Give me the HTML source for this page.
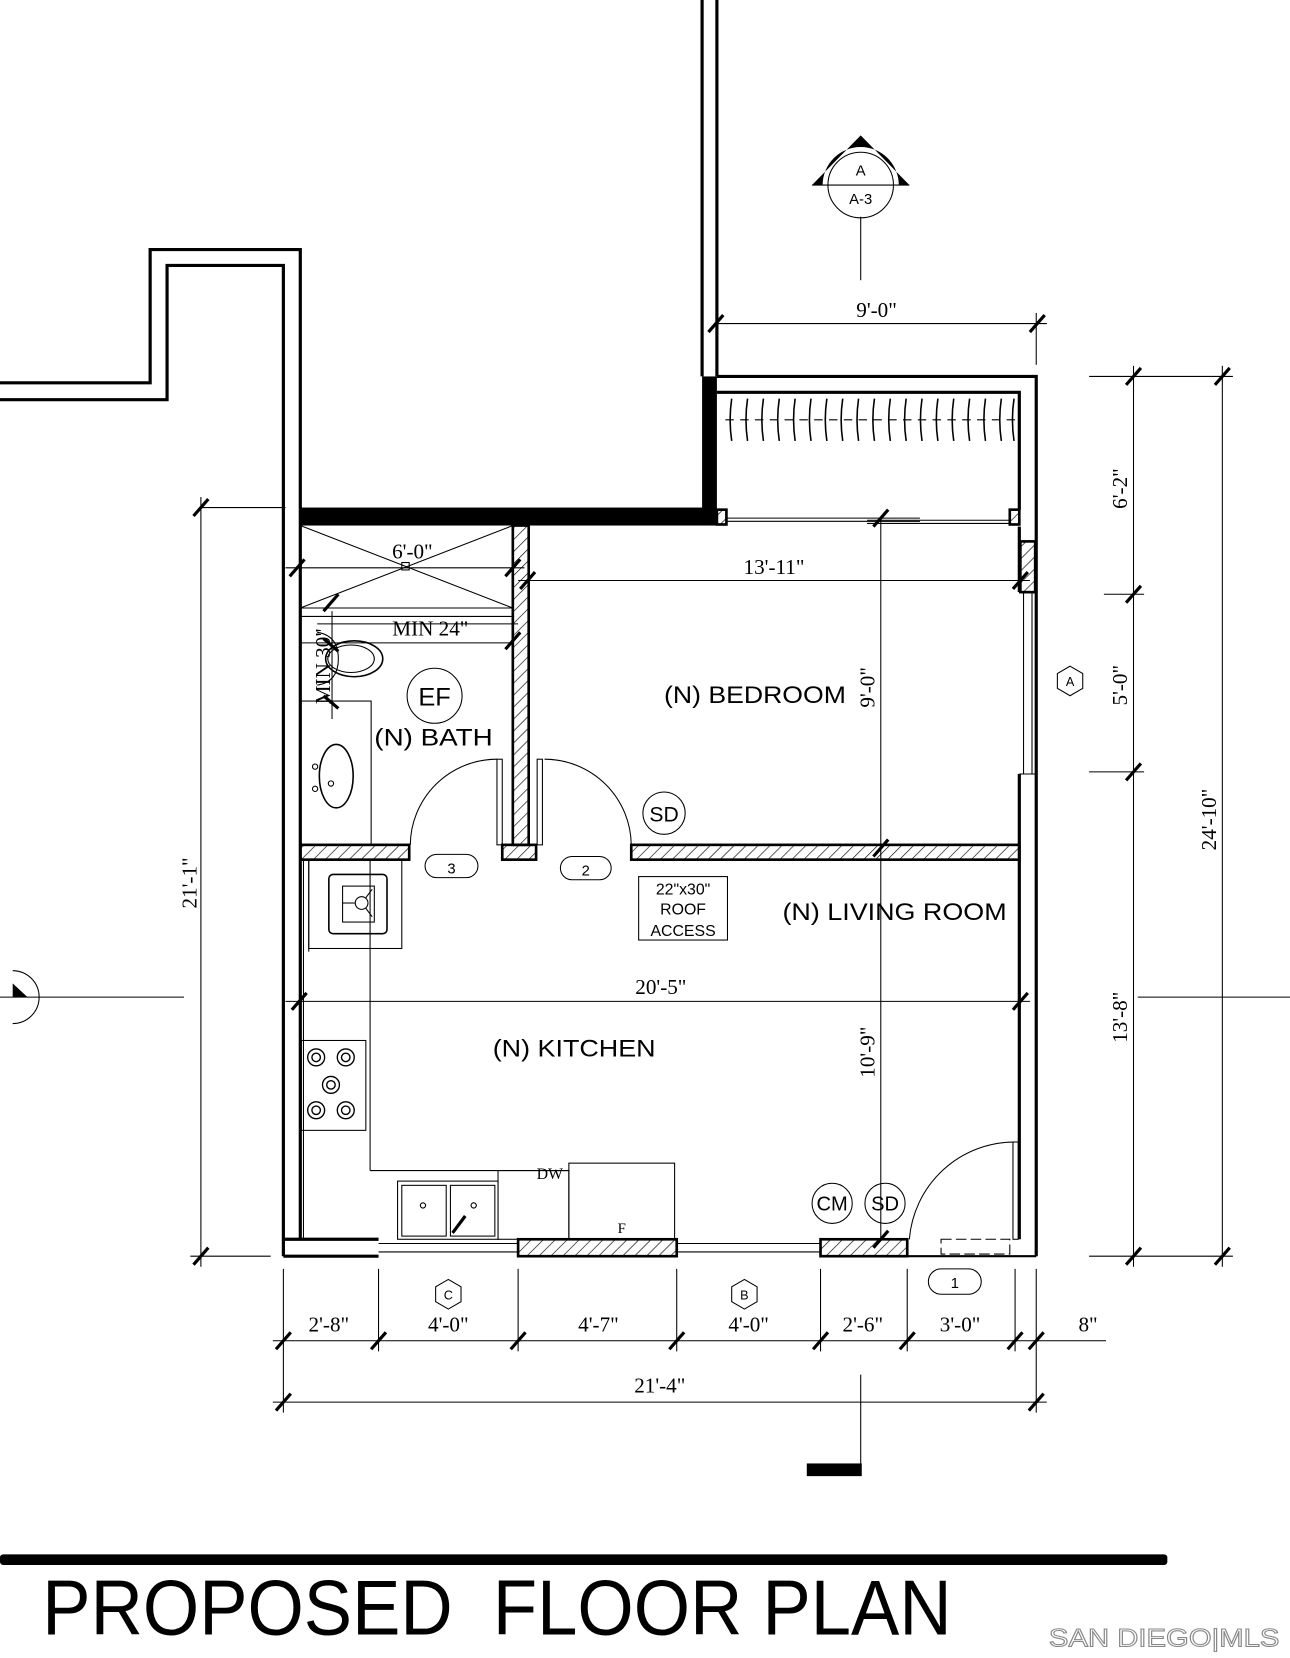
<!DOCTYPE html>
<html><head><meta charset="utf-8"><style>
html,body{margin:0;padding:0;background:#fff;width:1290px;height:1658px;overflow:hidden}
svg{display:block}
.s{font-family:"Liberation Sans",sans-serif}
.r{font-family:"Liberation Serif",serif}
</style></head><body>
<svg width="1290" height="1658" viewBox="0 0 1220 1568" preserveAspectRatio="none" xmlns="http://www.w3.org/2000/svg">
<defs>
<pattern id="h" width="8" height="8" patternUnits="userSpaceOnUse" patternTransform="rotate(45)">
<line x1="0" y1="0" x2="0" y2="8" stroke="#000" stroke-width="1.2"/>
</pattern>
</defs>
<rect width="1220" height="1568" fill="#fff"/>
<g fill="none" stroke="#000">
<polyline points="0,362 142,362 142,236 284,236 284,482" stroke-width="3"/>
<polyline points="0,378 158,378 158,251 268,251 268,1188" stroke-width="3"/>
<line x1="664" y1="0" x2="664" y2="356" stroke-width="3"/>
<line x1="678" y1="0" x2="678" y2="356" stroke-width="3"/>
<line x1="284" y1="482" x2="284" y2="1172" stroke-width="3"/>
<polyline points="678,356 980,356 980,1188" stroke-width="3"/>
<polyline points="678,371 964,371 964,482" stroke-width="3"/>
<polyline points="964,498 964,560" stroke-width="3"/>
<polyline points="964,732 964,1172" stroke-width="3"/>
<line x1="268" y1="1188" x2="358" y2="1188" stroke-width="3"/>
<line x1="268" y1="1172" x2="358" y2="1172" stroke-width="3"/>
<line x1="858" y1="1188" x2="980" y2="1188" stroke-width="2"/>
</g>
<rect x="284" y="480" width="394" height="17" fill="#000"/>
<rect x="664" y="356" width="14" height="141" fill="#000"/>
<g fill="url(#h)" stroke="#000" stroke-width="2.5">
<rect x="485" y="497" width="15" height="302"/>
<rect x="284" y="799" width="103" height="14"/>
<rect x="475" y="799" width="32" height="14"/>
<rect x="597" y="799" width="367" height="14"/>
<rect x="490" y="1172" width="150" height="16"/>
<rect x="776" y="1172" width="82" height="16"/>
<rect x="678" y="482" width="9" height="14"/>
<rect x="955" y="482" width="9" height="14"/>
<rect x="965" y="512" width="14" height="48"/>
</g>
<g fill="none" stroke="#000" stroke-width="1">
<line x1="358" y1="1176" x2="490" y2="1176"/><line x1="358" y1="1184" x2="490" y2="1184"/>
<line x1="640" y1="1176" x2="776" y2="1176"/><line x1="640" y1="1184" x2="776" y2="1184"/>
<line x1="968" y1="560" x2="968" y2="732"/><line x1="976" y1="560" x2="976" y2="732"/>
<line x1="964" y1="560" x2="980" y2="560"/><line x1="964" y1="732" x2="980" y2="732"/>
<line x1="687" y1="490" x2="870" y2="490"/><line x1="687" y1="493" x2="870" y2="493"/>
<line x1="820" y1="495" x2="955" y2="495"/><line x1="820" y1="492" x2="955" y2="492"/>
<line x1="686" y1="397" x2="962" y2="397" stroke-dasharray="8,6"/>
</g>
<g fill="none" stroke="#000" stroke-width="1.5">
<path d="M692,377 q-3,20 0,40 M707,377 q-3,20 0,40 M722,377 q-3,20 0,40 M737,377 q-3,20 0,40 M752,377 q-3,20 0,40 M767,377 q-3,20 0,40 M782,377 q-3,20 0,40 M797,377 q-3,20 0,40 M812,377 q-3,20 0,40 M827,377 q-3,20 0,40 M842,377 q-3,20 0,40 M857,377 q-3,20 0,40 M872,377 q-3,20 0,40 M887,377 q-3,20 0,40 M902,377 q-3,20 0,40 M917,377 q-3,20 0,40 M932,377 q-3,20 0,40 M947,377 q-3,20 0,40 M959,377 q-3,20 0,40"/>
</g>
<g fill="none" stroke="#000" stroke-width="1">
<line x1="284" y1="608" x2="485" y2="608"/>
<line x1="284" y1="575" x2="485" y2="575"/>
<line x1="284" y1="583" x2="485" y2="583"/>
<line x1="284" y1="497" x2="485" y2="575"/><line x1="485" y1="497" x2="284" y2="575"/>
<rect x="380" y="532" width="7" height="7"/>
<ellipse cx="335" cy="623" rx="27" ry="17" stroke-width="1.5"/>
<ellipse cx="332" cy="623" rx="22" ry="13"/>
<path d="M300,598 q20,3 20,25 q0,22 -20,25"/>
<rect x="284" y="663" width="67" height="136"/>
<ellipse cx="318" cy="734" rx="16" ry="30" stroke-width="1.5"/>
<circle cx="313" cy="741" r="2.5"/><circle cx="298" cy="725" r="2.5"/><circle cx="298" cy="746" r="2.5"/>
<circle cx="411" cy="658" r="26"/>
<circle cx="628" cy="769" r="20"/>
<path d="M388,799 A82,82 0 0 1 470,718"/>
<rect x="470" y="718" width="5" height="81"/>
<path d="M597,799 A82,82 0 0 0 515,718"/>
<rect x="508" y="718" width="5" height="81"/>
<path d="M860,1172 A100,100 0 0 1 960,1080"/>
<rect x="958" y="1080" width="5" height="92"/>
<rect x="890" y="1172" width="65" height="14" stroke-dasharray="10,4"/>
<line x1="287" y1="813" x2="287" y2="1172"/><line x1="292" y1="813" x2="292" y2="900"/>
<line x1="350" y1="813" x2="350" y2="1107"/>
<rect x="292" y="813" width="88" height="84"/>
<rect x="311" y="827" width="55" height="56" rx="4" stroke-width="1.5"/>
<rect x="324" y="838" width="30" height="34"/>
<circle cx="342" cy="854" r="6"/><line x1="324" y1="854" x2="336" y2="854"/><line x1="346" y1="849" x2="352" y2="841"/><line x1="346" y1="859" x2="352" y2="867"/>
<rect x="285" y="984" width="61" height="85"/>
<g stroke-width="1.3">
<circle cx="299" cy="1000" r="8"/><circle cx="327" cy="1000" r="8"/><circle cx="313" cy="1026" r="8"/><circle cx="299" cy="1050" r="8"/><circle cx="327" cy="1050" r="8"/>
<circle cx="299" cy="1000" r="4"/><circle cx="327" cy="1000" r="4"/><circle cx="313" cy="1026" r="4"/><circle cx="299" cy="1050" r="4"/><circle cx="327" cy="1050" r="4"/>
</g>
<line x1="350" y1="1107" x2="538" y2="1107"/>
<rect x="376" y="1117" width="95" height="55"/>
<rect x="380" y="1121" width="42" height="48"/><rect x="426" y="1121" width="42" height="48"/>
<circle cx="400" cy="1140" r="2.5"/><circle cx="448" cy="1140" r="2.5"/>
<line x1="428" y1="1166" x2="440" y2="1150" stroke-width="3"/>
<rect x="471" y="1107" width="67" height="65"/>
<rect x="538" y="1100" width="100" height="72"/>
<rect x="604" y="829" width="84" height="60"/>
<circle cx="787" cy="1138" r="19"/><circle cx="837" cy="1138" r="19"/>
<rect x="402" y="808" width="50" height="22" rx="11"/>
<rect x="530" y="810" width="48" height="22" rx="11"/>
<rect x="878" y="1200" width="50" height="24" rx="12"/>
<polygon points="424,1210 436,1217 436,1231 424,1238 412,1231 412,1217"/>
<polygon points="704,1210 716,1217 716,1231 704,1238 692,1231 692,1217"/>
<polygon points="1012,630 1024,637 1024,651 1012,658 1000,651 1000,637"/>
<line x1="678" y1="306" x2="990" y2="306"/><line x1="980" y1="296" x2="980" y2="345"/>
<line x1="270" y1="537" x2="496" y2="537"/>
<line x1="490" y1="549" x2="974" y2="549"/>
<line x1="300" y1="590" x2="490" y2="590"/>
<line x1="314" y1="578" x2="314" y2="680"/>
<line x1="270" y1="947" x2="974" y2="947"/>
<line x1="833" y1="490" x2="833" y2="1172"/>
<line x1="190" y1="480" x2="270" y2="480"/><line x1="180" y1="1188" x2="256" y2="1188"/>
<line x1="190" y1="470" x2="190" y2="1198"/>
<line x1="1030" y1="356" x2="1166" y2="356"/><line x1="1072" y1="346" x2="1072" y2="1198"/>
<line x1="1156" y1="346" x2="1156" y2="1198"/>
<line x1="1044" y1="562" x2="1082" y2="562"/><line x1="1030" y1="730" x2="1082" y2="730"/>
<line x1="1030" y1="1188" x2="1166" y2="1188"/>
<line x1="1076" y1="943" x2="1220" y2="943"/>
<line x1="0" y1="943" x2="174" y2="943"/>
<line x1="258" y1="1268" x2="1046" y2="1268"/>
<line x1="258" y1="1326" x2="990" y2="1326"/>
<line x1="268" y1="1200" x2="268" y2="1336"/><line x1="358" y1="1200" x2="358" y2="1278"/>
<line x1="490" y1="1200" x2="490" y2="1278"/><line x1="640" y1="1200" x2="640" y2="1278"/>
<line x1="776" y1="1200" x2="776" y2="1278"/><line x1="858" y1="1200" x2="858" y2="1278"/>
<line x1="960" y1="1200" x2="960" y2="1278"/><line x1="980" y1="1200" x2="980" y2="1336"/>
<line x1="814" y1="1300" x2="814" y2="1385"/>
<line x1="814" y1="205" x2="814" y2="265"/>
<circle cx="814" cy="175" r="31"/><line x1="768" y1="175" x2="860" y2="175"/>
<path d="M12,918 A25,25 0 0 1 12,968"/>
</g>
<g stroke="#000" stroke-width="3">
<path d="M670,314 l14,-16 M974,314 l14,-16 M274,545 l14,-16 M478,545 l14,-16 M492,557 l14,-16 M306,578 l14,-16 M478,614 l14,-16 M306,604 l14,12 M306,658 l14,12 M826,498 l14,-16 M826,810 l14,-16 M826,1180 l14,-16 M276,955 l14,-16 M958,955 l14,-16 M958,557 l14,-16 M183,488 l14,-16 M183,1196 l14,-16 M1065,364 l14,-16 M1149,364 l14,-16 M1065,570 l14,-16 M1065,738 l14,-16 M1065,1196 l14,-16 M1149,1196 l14,-16 M261,1276 l14,-16 M351,1276 l14,-16 M483,1276 l14,-16 M633,1276 l14,-16 M769,1276 l14,-16 M851,1276 l14,-16 M953,1276 l14,-16 M973,1276 l14,-16 M261,1334 l14,-16 M973,1334 l14,-16"/>
</g>
<path d="M768,175 L814,128 L860,175 L850,175 A36,36 0 0 0 778,175 Z" fill="#000"/>
<path d="M12,930 L26,943 L12,943 Z" fill="#000"/>
<rect x="763" y="1384" width="52" height="12" fill="#000"/>
<rect x="0" y="1470" width="1104" height="10" rx="3" fill="#000"/>
<g class="r" font-size="20" text-anchor="middle" fill="#000">
<text x="829" y="300">9'-0"</text>
<text x="390" y="528">6'-0"</text>
<text x="732" y="543">13'-11"</text>
<text x="407" y="601">MIN 24"</text>
<text x="625" y="940">20'-5"</text>
<text x="311" y="1259">2'-8"</text>
<text x="424" y="1259">4'-0"</text>
<text x="566" y="1259">4'-7"</text>
<text x="708" y="1259">4'-0"</text>
<text x="816" y="1259">2'-6"</text>
<text x="908" y="1259">3'-0"</text>
<text x="1029" y="1259">8"</text>
<text x="624" y="1317">21'-4"</text>
<text x="520" y="1115" font-size="15">DW</text>
<text x="588" y="1166" font-size="14">F</text>
<text transform="translate(186,835) rotate(-90)">21'-1"</text>
<text transform="translate(312,630) rotate(-90)">MIN 30"</text>
<text transform="translate(827,650) rotate(-90)">9'-0"</text>
<text transform="translate(827,995) rotate(-90)">10'-9"</text>
<text transform="translate(1066,462) rotate(-90)">6'-2"</text>
<text transform="translate(1066,648) rotate(-90)">5'-0"</text>
<text transform="translate(1066,962) rotate(-90)">13'-8"</text>
<text transform="translate(1150,775) rotate(-90)">24'-10"</text>
</g>
<g class="s" text-anchor="middle" fill="#000">
<text x="714" y="665" font-size="23" textLength="172" lengthAdjust="spacingAndGlyphs">(N) BEDROOM</text>
<text x="410" y="705" font-size="23" textLength="112" lengthAdjust="spacingAndGlyphs">(N) BATH</text>
<text x="411" y="667" font-size="24">EF</text>
<text x="628" y="777" font-size="20">SD</text>
<text x="846" y="870" font-size="23" textLength="212" lengthAdjust="spacingAndGlyphs">(N) LIVING ROOM</text>
<text x="543" y="999" font-size="23" textLength="154" lengthAdjust="spacingAndGlyphs">(N) KITCHEN</text>
<text x="787" y="1145" font-size="19">CM</text>
<text x="837" y="1145" font-size="19">SD</text>
<text x="646" y="846" font-size="15">22"x30"</text>
<text x="646" y="865" font-size="15">ROOF</text>
<text x="646" y="885" font-size="15">ACCESS</text>
<text x="427" y="826" font-size="14">3</text>
<text x="554" y="828" font-size="14">2</text>
<text x="903" y="1218" font-size="14">1</text>
<text x="424" y="1229" font-size="12">C</text>
<text x="704" y="1229" font-size="12">B</text>
<text x="1012" y="649" font-size="12">A</text>
<text x="814" y="166" font-size="14">A</text>
<text x="814" y="193" font-size="14">A-3</text>
<text x="40" y="1546" font-size="74" text-anchor="start" textLength="860" lengthAdjust="spacingAndGlyphs">PROPOSED&#160;&#160;FLOOR PLAN</text>
<text x="992" y="1557" font-size="24" text-anchor="start" textLength="218" lengthAdjust="spacingAndGlyphs" fill="#fff" stroke="#888" stroke-width="1">SAN DIEGO|MLS</text>
</g>
</svg>
</body></html>
